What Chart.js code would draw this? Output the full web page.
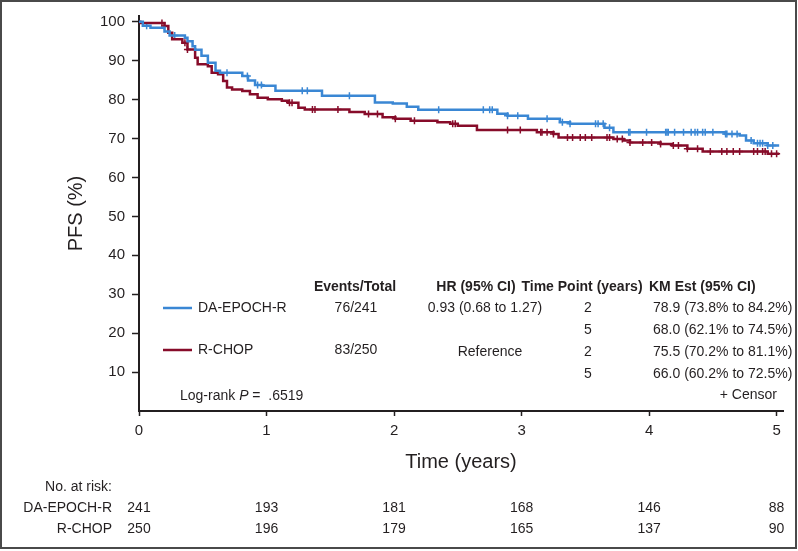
<!DOCTYPE html>
<html>
<head>
<meta charset="utf-8">
<script src="https://cdn.jsdelivr.net/npm/chart.js@4/dist/chart.umd.min.js"></script>
<style>
  html, body { margin: 0; padding: 0; background: #fff; }
  #wrap { width: 798px; height: 551px; position: relative; }
</style>
</head>
<body>
<div id="wrap"><canvas id="myChart" width="798" height="551"></canvas></div>
<script>
/* Kaplan-Meier step data (time in years, PFS %) */
var epochTimes = [0, 0.03, 0.09, 0.20, 0.24, 0.36, 0.38, 0.42, 0.44, 0.49, 0.54, 0.60, 0.635, 0.81, 0.855, 0.91, 0.965, 1.07, 1.435, 1.85, 1.99, 2.10, 2.19, 2.81, 2.89, 3.05, 3.30, 3.38, 3.65, 3.72, 4.60, 4.71, 4.76, 4.82, 4.93, 5.02];
var epochSurv  = [100, 99.0, 98.5, 97.5, 96.5, 95.9, 95.0, 93.7, 92.8, 91.3, 89.5, 87.4, 86.9, 86.1, 84.9, 83.8, 83.6, 82.3, 81.0, 79.3, 79.0, 78.2, 77.4, 76.4, 75.9, 75.1, 74.2, 73.8, 72.8, 71.6, 71.2, 70.8, 69.5, 68.8, 68.2, 68.2];

var chopTimes = [0, 0.01, 0.20, 0.23, 0.26, 0.34, 0.38, 0.44, 0.46, 0.54, 0.57, 0.62, 0.66, 0.69, 0.73, 0.81, 0.87, 0.93, 1.01, 1.12, 1.17, 1.25, 1.30, 1.65, 1.77, 1.91, 2.01, 2.13, 2.34, 2.44, 2.50, 2.65, 3.12, 3.25, 3.29, 3.72, 3.80, 3.85, 4.09, 4.18, 4.30, 4.42, 4.93, 5.02];
var chopSurv  = [100, 99.7, 98.9, 97.2, 95.5, 94.6, 92.9, 90.8, 89.1, 88.6, 86.9, 86.5, 84.8, 83.1, 82.6, 82.2, 81.4, 80.5, 80.1, 79.7, 79.2, 77.9, 77.5, 76.8, 76.3, 75.5, 75.1, 74.6, 74.2, 73.8, 73.3, 72.2, 71.6, 71.2, 70.3, 69.9, 69.5, 69.0, 68.6, 68.2, 67.4, 66.7, 66.1, 66.1];

// censor times
var epochCensor = [0.06, 0.28, 0.69, 0.85, 0.93, 0.96, 1.28, 1.32, 1.65, 2.35, 2.70, 2.75, 2.77, 2.89, 2.97, 3.20, 3.32, 3.38, 3.58, 3.60, 3.64, 3.69, 3.84, 3.85, 3.98, 4.13, 4.14, 4.15, 4.20, 4.27, 4.33, 4.36, 4.38, 4.42, 4.44, 4.50, 4.60, 4.61, 4.65, 4.69, 4.80, 4.85, 4.87, 4.89, 4.93, 4.97];
var chopCensor = [0.18, 0.20, 0.36, 0.38, 1.18, 1.20, 1.36, 1.38, 1.56, 1.80, 1.87, 2.01, 2.16, 2.46, 2.48, 2.89, 2.99, 3.15, 3.16, 3.20, 3.25, 3.36, 3.40, 3.46, 3.50, 3.55, 3.67, 3.69, 3.75, 3.79, 3.85, 3.95, 4.02, 4.09, 4.19, 4.23, 4.30, 4.38, 4.48, 4.57, 4.61, 4.66, 4.71, 4.82, 4.85, 4.89, 4.91, 4.96, 5.00];

var xTicks = [0, 1, 2, 3, 4, 5];
var yTicks = [10, 20, 30, 40, 50, 60, 70, 80, 90, 100];

// number at risk
var riskTimes = [0, 1, 2, 3, 4, 5];
var riskEpoch = [241, 193, 181, 168, 146, 88];
var riskChop  = [250, 196, 179, 165, 137, 90];

var BLUE = 'rgb(58, 135, 212)';
var RED = 'rgb(135, 12, 42)';
var INK = '#231f20';
var FONT = '"Liberation Sans", Arial, sans-serif';

/* value of a step curve at time t */
function stepValue(times, surv, t) {
  var v = surv[0];
  for (var i = 0; i < times.length; i++) {
    if (times[i] <= t) v = surv[i];
  }
  return v;
}

function toPoints(times, surv) {
  return times.map(function(t, i) { return {x: t, y: surv[i]}; });
}

function censorPoints(cens, times, surv) {
  return cens.map(function(t) { return {x: t, y: stepValue(times, surv, t)}; });
}

/* draws frame, tables and legend text */
var textPlugin = {
  id: 'kmText',
  afterDraw: function(chart) {
    var ctx = chart.ctx;
    var xs = chart.scales.x;
    ctx.save();

    // outer frame
    ctx.strokeStyle = '#4a4a4a';
    ctx.lineWidth = 2;
    ctx.strokeRect(1, 1, 795, 547);

    ctx.fillStyle = INK;
    ctx.textBaseline = 'middle';

    // header row
    ctx.font = 'bold 14px ' + FONT;
    ctx.textAlign = 'center';
    ctx.fillText('Events/Total', 355, 287);
    ctx.fillText('HR (95% CI)', 476, 287);
    ctx.fillText('Time Point (years)', 582, 287);
    ctx.textAlign = 'left';
    ctx.fillText('KM Est (95% CI)', 649, 287);

    // legend lines
    ctx.lineWidth = 2.5;
    ctx.strokeStyle = BLUE;
    ctx.beginPath(); ctx.moveTo(163, 308); ctx.lineTo(192, 308); ctx.stroke();
    ctx.strokeStyle = RED;
    ctx.beginPath(); ctx.moveTo(163, 350); ctx.lineTo(192, 350); ctx.stroke();

    ctx.font = '14px ' + FONT;
    ctx.textAlign = 'left';
    ctx.fillText('DA-EPOCH-R', 198, 308);
    ctx.fillText('R-CHOP', 198, 350);

    ctx.textAlign = 'center';
    ctx.fillText('76/241', 356, 308);
    ctx.fillText('83/250', 356, 350);
    ctx.fillText('0.93 (0.68 to 1.27)', 485, 308);
    ctx.fillText('Reference', 490, 352);
    ctx.fillText('2', 588, 308);
    ctx.fillText('5', 588, 330);
    ctx.fillText('2', 588, 352);
    ctx.fillText('5', 588, 374);

    ctx.textAlign = 'left';
    ctx.fillText('78.9 (73.8% to 84.2%)', 653, 308);
    ctx.fillText('68.0 (62.1% to 74.5%)', 653, 330);
    ctx.fillText('75.5 (70.2% to 81.1%)', 653, 352);
    ctx.fillText('66.0 (60.2% to 72.5%)', 653, 374);

    // log-rank with italic P
    var lx = 180;
    ctx.fillText('Log-rank ', lx, 396);
    lx += ctx.measureText('Log-rank ').width;
    ctx.font = 'italic 14px ' + FONT;
    ctx.fillText('P', lx, 396);
    lx += ctx.measureText('P').width;
    ctx.font = '14px ' + FONT;
    ctx.fillText(' =  .6519', lx, 396);

    ctx.textAlign = 'right';
    ctx.fillText('+ Censor', 777, 395);

    // number at risk table
    ctx.fillText('No. at risk:', 112, 487);
    ctx.fillText('DA-EPOCH-R', 112, 508);
    ctx.fillText('R-CHOP', 112, 529);
    ctx.textAlign = 'center';
    riskTimes.forEach(function(t, i) {
      var px = xs.getPixelForValue(t);
      ctx.fillText(String(riskEpoch[i]), px, 508);
      ctx.fillText(String(riskChop[i]), px, 529);
    });

    ctx.restore();
  }
};

var config = {
  type: 'line',
  data: {
    datasets: [
      {
        label: 'DA-EPOCH-R',
        data: toPoints(epochTimes, epochSurv),
        borderColor: BLUE,
        borderWidth: 2.5,
        stepped: true,
        pointRadius: 0,
        fill: false
      },
      {
        label: 'R-CHOP',
        data: toPoints(chopTimes, chopSurv),
        borderColor: RED,
        borderWidth: 2.5,
        stepped: true,
        pointRadius: 0,
        fill: false
      },
      {
        label: 'DA-EPOCH-R censor',
        data: censorPoints(epochCensor, epochTimes, epochSurv),
        showLine: false,
        pointStyle: 'cross',
        pointRadius: 3.5,
        pointBorderWidth: 1.5,
        borderColor: BLUE,
        backgroundColor: BLUE
      },
      {
        label: 'R-CHOP censor',
        data: censorPoints(chopCensor, chopTimes, chopSurv),
        showLine: false,
        pointStyle: 'cross',
        pointRadius: 3.5,
        pointBorderWidth: 1.5,
        borderColor: RED,
        backgroundColor: RED
      }
    ]
  },
  options: {
    responsive: false,
    animation: false,
    events: [],
    layout: { padding: { top: 15, right: 15, left: 0, bottom: 0 } },
    plugins: {
      legend: { display: false },
      tooltip: { enabled: false }
    },
    scales: {
      x: {
        type: 'linear',
        min: 0,
        max: 5.05,
        afterBuildTicks: function(scale) {
          scale.ticks = xTicks.map(function(v) { return {value: v}; });
        },
        afterFit: function(scale) { scale.height = 140; },
        grid: {
          drawOnChartArea: false,
          drawTicks: true,
          tickLength: 5,
          tickColor: INK,
          tickWidth: 1.5
        },
        border: { display: true, color: INK, width: 2 },
        ticks: {
          color: INK,
          font: { size: 15, family: FONT },
          padding: 6,
          maxRotation: 0
        },
        title: {
          display: true,
          text: 'Time (years)',
          color: INK,
          font: { size: 20, family: FONT },
          padding: { top: 0, bottom: 77 }
        }
      },
      y: {
        min: 0,
        max: 101.5,
        afterBuildTicks: function(scale) {
          scale.ticks = yTicks.map(function(v) { return {value: v}; });
        },
        afterFit: function(scale) { scale.width = 139; },
        grid: {
          drawOnChartArea: false,
          drawTicks: true,
          tickLength: 7,
          tickColor: INK,
          tickWidth: 1.5
        },
        border: { display: true, color: INK, width: 2 },
        ticks: {
          color: INK,
          font: { size: 15, family: FONT },
          padding: 7
        },
        title: {
          display: true,
          text: 'PFS (%)',
          color: INK,
          font: { size: 20, family: FONT },
          padding: { top: 64, bottom: 0 }
        }
      }
    }
  },
  plugins: [textPlugin]
};

var ctx = document.getElementById('myChart').getContext('2d');
window.kmChart = new Chart(ctx, config);
</script>
</body>
</html>
